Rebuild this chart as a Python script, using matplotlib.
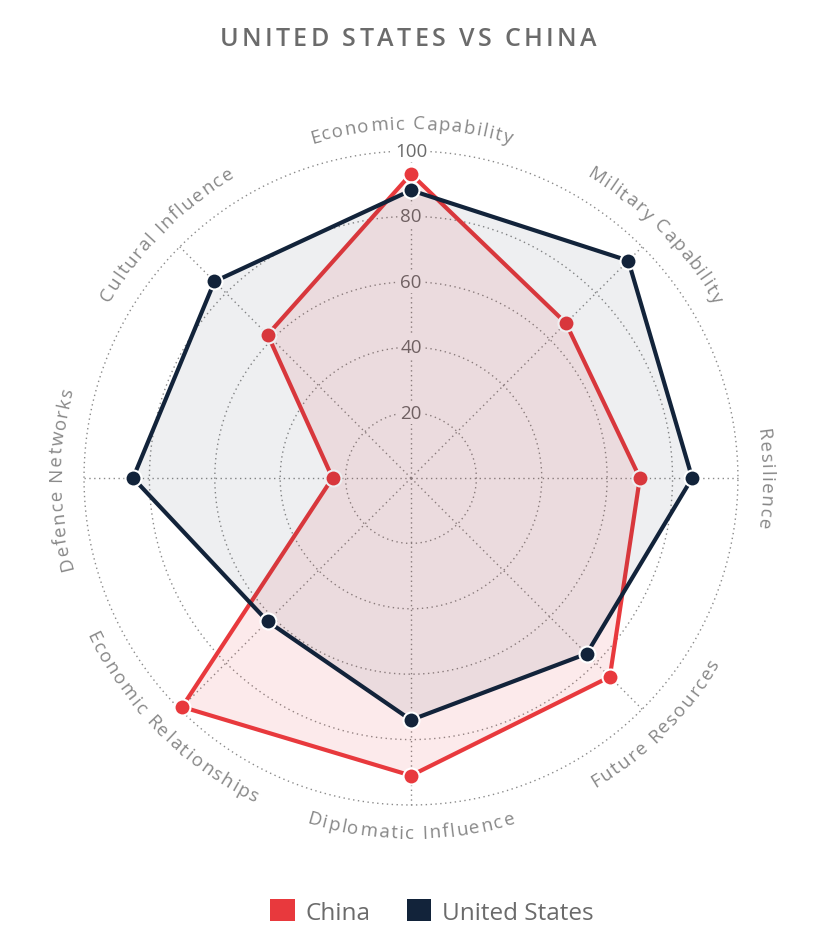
import numpy as np
import matplotlib
matplotlib.use("Agg")
import matplotlib.pyplot as plt
from matplotlib.font_manager import FontProperties, findfont, get_font
from matplotlib.patches import Patch

categories = ["Economic Capability", "Military Capability", "Resilience", "Future Resources",
              "Diplomatic Influence", "Economic Relationships", "Defence Networks", "Cultural Influence"]
china = [93, 67, 70, 86, 91, 99, 24, 62]
usa = [88, 94, 86, 76, 74, 62, 85, 85]
ticks = [20, 40, 60, 80, 100]
title = "UNITED STATES VS CHINA"

RED = "#e8393d"
NAVY = "#12233a"
GREY = "#6b6b6b"
FONT = "Open Sans"
DPI = 100

plt.rcParams['font.family'] = [FONT, 'DejaVu Sans']


def advances(text, size, track, weight='normal'):
    font = get_font(findfont(FontProperties(family=FONT, weight=weight)))
    font.set_size(size, DPI)
    out = []
    for ch in text:
        g = font.load_char(ord(ch))
        out.append(g.linearHoriAdvance / 65536 + track)
    return np.array(out)


fig = plt.figure(figsize=(8.28, 9.45), dpi=DPI)
ax = fig.add_axes([0.1014, 0.1471, 0.7899, 0.692], projection='polar')
ax.set_theta_zero_location('N')
ax.set_theta_direction(-1)
ax.set_rlim(0, 100)
ax.set_axis_off()

n = len(categories)
angles = np.arange(n) * 2 * np.pi / n

# dotted grid
circ = np.linspace(0, 2 * np.pi, 500)
for r in ticks:
    ax.plot(circ, np.full_like(circ, r), ls=(0, (1, 2.5)), color="#8a8a8a", lw=1, zorder=1, clip_on=False)
for a in angles:
    ax.plot([a, a], [0, 100], ls=(0, (1, 2.5)), color="#8a8a8a", lw=1, zorder=1, clip_on=False)

for r in ticks:
    ax.text(0, r, str(r), ha='center', va='center', fontsize=13.5, color=GREY, zorder=2,
            bbox=dict(boxstyle='square,pad=0.12', fc='white', ec='none'))

# series
ang_c = np.concatenate([angles, angles[:1]])
for vals, col, a_fill, z in [(china, RED, 0.1, 3), (usa, NAVY, 0.07, 5)]:
    v = np.concatenate([vals, vals[:1]])
    ax.fill(ang_c, v, color=col, alpha=a_fill, lw=0, zorder=z, clip_on=False)
    ax.plot(ang_c, v, color=col, lw=3, zorder=z + 1, clip_on=False, solid_joinstyle='miter')
    ax.plot(angles, vals, 'o', ms=11.5, mfc=col, mec='white', mew=1.5, zorder=z + 1.5, clip_on=False)

# curved category labels
lab_size = 13.5
lab_r = 108.5
p0 = ax.transData.transform((0, 0))
p1 = ax.transData.transform((0, lab_r))
R_px = np.hypot(*(p1 - p0))

for cat, a in zip(categories, angles):
    adv = advances(cat, lab_size, 1.6)
    centers = np.cumsum(adv) - adv / 2 - adv.sum() / 2
    upper = np.cos(a) > -0.01
    for ch, d in zip(cat, centers):
        if upper:
            phi = a + d / R_px
            rot = -np.degrees(phi)
        else:
            phi = a - d / R_px
            rot = 180 - np.degrees(phi)
        ax.text(phi, lab_r, ch, ha='center', va='center', rotation=rot, rotation_mode='anchor',
                fontsize=lab_size, color="#888888", clip_on=False)

# title with letter spacing
t_size = 18
t_adv = advances(title, t_size, 3.4, weight='semibold')
t_centers = np.cumsum(t_adv) - t_adv / 2 - t_adv.sum() / 2
for ch, d in zip(title, t_centers):
    fig.text(408 / 828 + d / 828, 1 - 40 / 945, ch, ha='center', va='center', fontsize=t_size,
             color=GREY, fontweight='semibold')

handles = [Patch(facecolor=RED, edgecolor='none', label='China'),
           Patch(facecolor=NAVY, edgecolor='none', label='United States')]
fig.legend(handles=handles, loc='center', bbox_to_anchor=(432 / 828, 1 - 913 / 945), ncol=2, frameon=False,
           fontsize=17.5, handlelength=1.0, handleheight=1.0, handletextpad=0.45, columnspacing=1.5,
           labelcolor=GREY)

fig.savefig("out.png", dpi=DPI, facecolor='white')
